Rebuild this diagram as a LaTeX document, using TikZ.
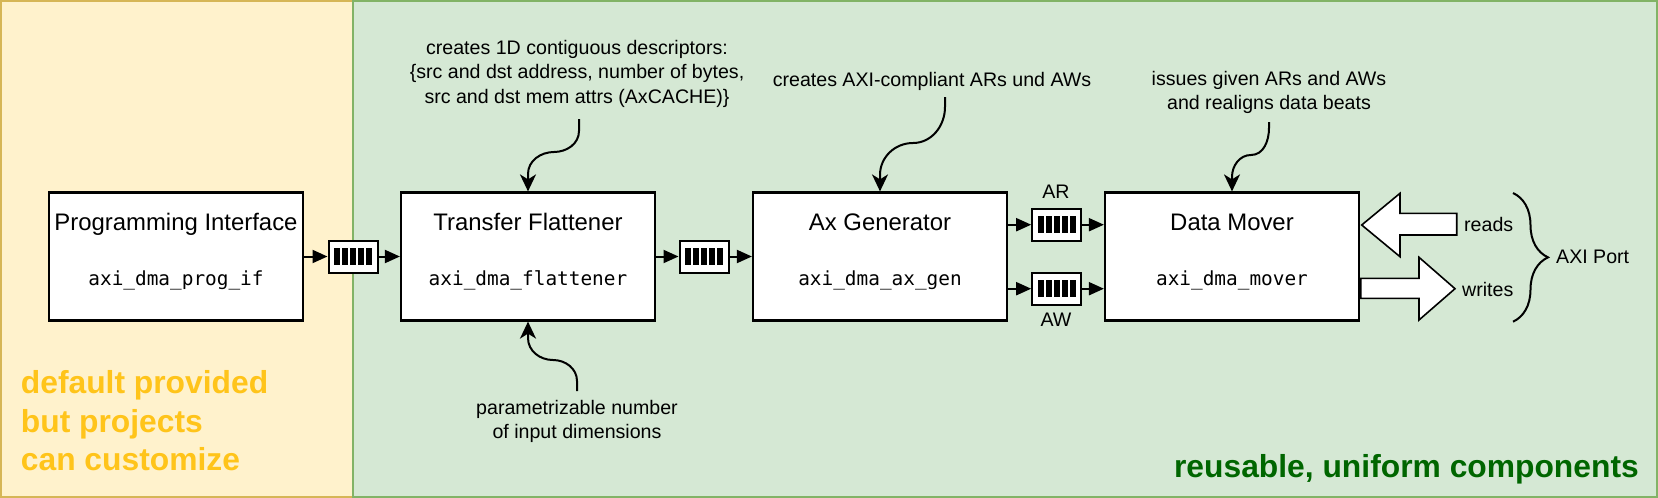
\documentclass[tikz,border=0pt]{standalone}
\usepackage{fontspec}
\setmainfont{Liberation Sans}
\newfontfamily\monof{DejaVu Sans Mono}
\usetikzlibrary{arrows.meta,decorations.pathreplacing,calc}
\definecolor{ybg}{HTML}{FFF2CC}
\definecolor{ybd}{HTML}{D6B656}
\definecolor{gbg}{HTML}{D5E8D4}
\definecolor{gbd}{HTML}{82B366}
\definecolor{ytxt}{RGB}{255,196,26}
\definecolor{gtxt}{RGB}{0,102,0}
\tikzset{
  block/.style={draw=black, fill=white, line width=2.2pt, minimum width=254pt, minimum height=128pt, inner sep=0pt},
  btitle/.style={font=\fontsize{23.9}{28}\selectfont, anchor=base, inner sep=0pt},
  bmono/.style={font=\monof\fontsize{19.4}{23}\selectfont, anchor=base, inner sep=0pt},
  fifo/.style={draw=black, fill=white, line width=2pt, minimum width=49pt, minimum height=32pt, inner sep=0pt,
    path picture={\foreach \o in {-16,-8,0,8,16} \fill[black] ($(path picture bounding box.center)+(\o-3,-8.5)$) rectangle ++(6,17);}},
  conn/.style={line width=2pt, -{Triangle[length=15pt,width=13pt]}},
  curvy/.style={line width=2pt, -{Stealth[length=17pt,width=16pt,inset=5pt]}},
  ann/.style={font=\fontsize{19.6}{24.2}\selectfont, align=center, inner sep=0pt, text depth=0pt},
  bigarrow/.style={draw=black, fill=white, line width=1.6pt, line join=miter},
  note/.style={font=\bfseries\fontsize{31.8}{38.3}\selectfont, inner sep=0pt, text depth=0pt}
}
\begin{document}
\begin{tikzpicture}[x=1pt,y=-1pt]
\useasboundingbox (0,0) rectangle (1658,498);
% panels
\fill[ybg] (1,1) rectangle (353,497);
\draw[ybd, line width=2pt] (1,1) rectangle (353,497);
\fill[gbg] (353,1) rectangle (1657,497);
\draw[gbd, line width=2pt] (353,1) rectangle (1657,497);

% blocks
\node[block] (pi) at (176,256.5) {};
\node[btitle] (pit) at ($(pi.center)+(0,-26.5)$) {Programming Interface};
\node[bmono] (pim) at ($(pi.center)+(0,28.5)$) {axi\_dma\_prog\_if};

\node[block] (ft) at (528,256.5) {};
\node[btitle] (ftt) at ($(ft.center)+(0,-26.5)$) {Transfer Flattener};
\node[bmono] (ftm) at ($(ft.center)+(0,28.5)$) {axi\_dma\_flattener};

\node[block] (ax) at (880,256.5) {};
\node[btitle] (axt) at ($(ax.center)+(0,-26.5)$) {Ax Generator};
\node[bmono] (axm) at ($(ax.center)+(0,28.5)$) {axi\_dma\_ax\_gen};

\node[block] (dm) at (1232,256.5) {};
\node[btitle] (dmt) at ($(dm.center)+(0,-26.5)$) {Data Mover};
\node[bmono] (dmm) at ($(dm.center)+(0,28.5)$) {axi\_dma\_mover};

% fifos
\node[fifo] (f1) at (353,256.5) {};
\node[fifo] (f2) at (704,256.5) {};
\node[fifo] (far) at (1056.7,224.7) {};
\node[fifo] (faw) at (1056.7,288.7) {};
\node[ann, anchor=base] (arl) at (1056,198.3) {AR};
\node[ann, anchor=base] (awl) at (1056,326.7) {AW};

% connectors
\draw[conn] (pi.east) -- (f1.west);
\draw[conn] (f1.east) -- (ft.west);
\draw[conn] (ft.east) -- (f2.west);
\draw[conn] (f2.east) -- (ax.west);
\draw[conn] (ax.east |- far.west) -- (far.west);
\draw[conn] (far.east) -- (dm.west |- far.east);
\draw[conn] (ax.east |- faw.west) -- (faw.west);
\draw[conn] (faw.east) -- (dm.west |- faw.east);

% annotations
\node[ann, anchor=south] (fta) at (577,103.3) {creates 1D contiguous descriptors:\\\{src and dst address, number of bytes,\\src and dst mem attrs (AxCACHE)\}};
\node[ann, anchor=south] (axa) at (932,86.7) {creates AXI-compliant ARs und AWs};
\node[ann, anchor=south] (dma) at (1269,110) {issues given ARs and AWs\\and realigns data beats};
\node[ann, anchor=south] (ftb) at (577,439) {parametrizable number\\of input dimensions};

\coordinate (c1) at (579,119);
\coordinate (c2) at (945,97);
\coordinate (c3) at (1269,122);
\coordinate (c4) at (577,391);
\draw[curvy] (c1) -- ++(0,12) to[out=-90,in=0] ++(-25,21) to[out=180,in=90] ++(-26,22) -- (ft.north);
\draw[curvy] (c2) -- ++(0,10) to[out=-90,in=0] ++(-32,36) to[out=180,in=90] ++(-33,32) -- (ax.north);
\draw[curvy] (c3) -- ++(0,6) to[out=-90,in=0] ++(-18,27) to[out=180,in=90] ++(-19,22) -- (dm.north);
\draw[curvy] (c4) -- ++(0,-10) to[out=90,in=0] ++(-24,-21) to[out=180,in=-90] ++(-25,-22) -- (ft.south);

% AXI port arrows
\draw[bigarrow] (1361.7,225) -- (1400,193.3) -- (1400,213.3) -- (1456.7,213.3) -- (1456.7,235) -- (1400,235) -- (1400,256.7) -- cycle;
\draw[bigarrow] (1360.7,278.3) -- (1419,278.3) -- (1419,257.3) -- (1455,288.7) -- (1419,320) -- (1419,298.3) -- (1360.7,298.3) -- cycle;
\node[ann, anchor=base west] (rd) at (1464,231) {reads};
\node[ann, anchor=base west] (wr) at (1462,296) {writes};
\coordinate (bt) at (1513,193);
\coordinate (bb) at (1513,321.7);
\draw[line width=2pt, decorate, decoration={brace, amplitude=35pt}] (bt) -- (bb);
\node[ann, anchor=base west] (axip) at (1556,263) {AXI Port};

% notes
\node[note, text=ytxt, align=left, anchor=south west] (ynote) at (20.7,470.7) {default provided\\but projects\\can customize};
\node[note, text=gtxt, anchor=base east] (gnote) at (1639,477) {reusable, uniform components};
\end{tikzpicture}
\end{document}
